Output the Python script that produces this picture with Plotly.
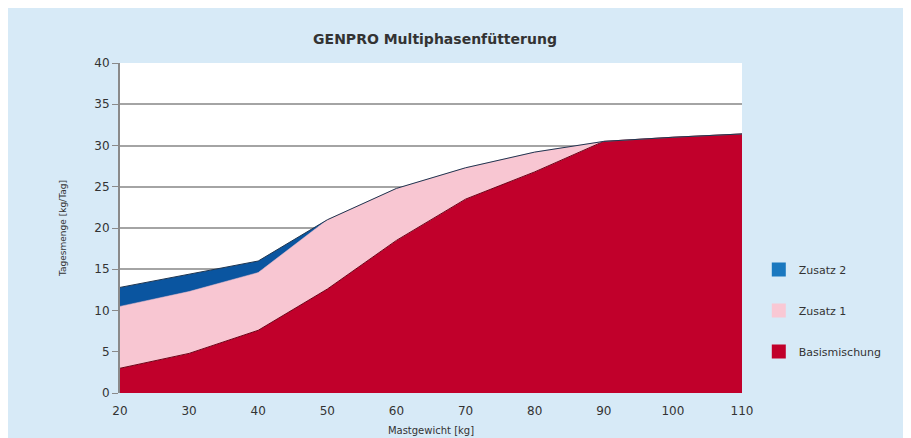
import plotly.graph_objects as go

gewicht = [20, 30, 40, 50, 60, 70, 80, 90, 100, 110]
basismischung = [3.0, 4.8, 7.6, 12.6, 18.5, 23.5, 26.8, 30.5, 31.0, 31.4]
zusatz1 = [7.5, 7.5, 7.0, 8.4, 6.3, 3.8, 2.4, 0.0, 0.0, 0.0]
zusatz2 = [2.3, 2.1, 1.4, 0.0, 0.0, 0.0, 0.0, 0.0, 0.0, 0.0]
y_ticks = [0, 5, 10, 15, 20, 25, 30, 35, 40]
legend_names = ["Zusatz 2", "Zusatz 1", "Basismischung"]
legend_colors = ["#1A78BF", "#F9C8D4", "#C1002B"]

FONT = "DejaVu Sans, Liberation Sans, sans-serif"

fig = go.Figure()
fig.add_trace(go.Scatter(x=gewicht, y=basismischung, name="Basismischung", stackgroup="s",
                         mode="lines", line=dict(color="#6e0016", width=1),
                         fillcolor="#C1002B", showlegend=False))
fig.add_trace(go.Scatter(x=gewicht, y=zusatz1, name="Zusatz 1", stackgroup="s",
                         mode="lines", line=dict(color="#f3b7c6", width=0.5),
                         fillcolor="#F8C6D2", showlegend=False))
fig.add_trace(go.Scatter(x=gewicht, y=zusatz2, name="Zusatz 2", stackgroup="s",
                         mode="lines", line=dict(color="#1e3550", width=1),
                         fillcolor="#0A55A0", showlegend=False))

for i, (n, c) in enumerate(zip(legend_names, legend_colors)):
    fig.add_trace(go.Scatter(x=[None], y=[None], name=n, mode="markers",
                             marker=dict(symbol="square", size=14, color=c),
                             legendgroup=f"g{i}", showlegend=True))

fig.update_layout(
    width=911, height=438,
    paper_bgcolor="#D7EAF7", plot_bgcolor="#FFFFFF",
    margin=dict(l=112, r=177, t=55, b=51),
    font=dict(family=FONT, size=12, color="#333333"),
    title=dict(text="<b>GENPRO Multiphasenfütterung</b>", x=427/911, xanchor="center",
               y=1 - 31/438, yanchor="middle", font=dict(size=14, color="#333333")),
    showlegend=True,
    legend=dict(traceorder="grouped", tracegroupgap=22, x=1.027, xanchor="left",
                y=0.25, yanchor="middle", bgcolor="rgba(0,0,0,0)",
                font=dict(size=11, color="#333333")),
    xaxis=dict(range=[20, 110], tickvals=gewicht, showgrid=False, zeroline=False,
               showline=False, ticks="", ticklabelstandoff=9,
               title=dict(text="Mastgewicht [kg]", standoff=9, font=dict(size=10)),
               tickfont=dict(size=12)),
    yaxis=dict(range=[0, 40], tickvals=y_ticks, showgrid=True, gridcolor="#A4A4A4",
               gridwidth=2, zeroline=False, showline=True, linecolor="#8a8a8a", linewidth=2,
               ticks="outside", ticklen=6, tickcolor="#8a8a8a",
               title=dict(text="Tagesmenge [kg/Tag]", font=dict(size=9), standoff=26),
               tickfont=dict(size=12)),
)

fig.write_html("out.html")
